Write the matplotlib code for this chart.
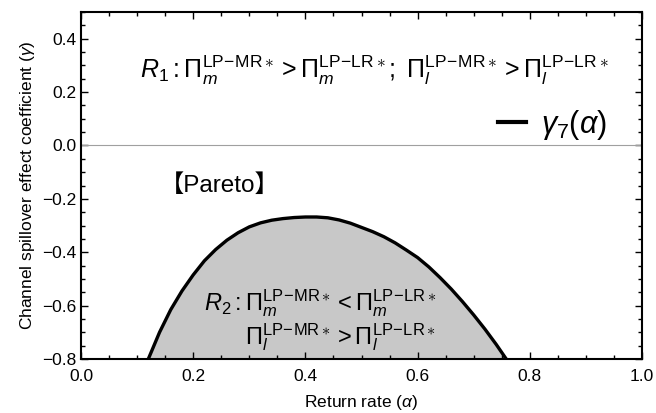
import matplotlib
matplotlib.use("Agg")
import matplotlib.pyplot as plt
from matplotlib.ticker import MultipleLocator, FuncFormatter

plt.rcParams['font.family'] = ['Liberation Sans', 'Noto Sans CJK SC', 'DejaVu Sans']
plt.rcParams['mathtext.fontset'] = 'custom'
plt.rcParams['mathtext.rm'] = 'Liberation Sans'
plt.rcParams['mathtext.it'] = 'Liberation Sans:italic'
plt.rcParams['mathtext.bf'] = 'Liberation Sans:bold'

# boundary curve gamma_7(alpha)
alpha = [0.120, 0.14, 0.16, 0.18, 0.20, 0.22, 0.24, 0.26, 0.28, 0.30, 0.32,
         0.34, 0.36, 0.38, 0.40, 0.42, 0.44, 0.46, 0.48, 0.50, 0.52, 0.54,
         0.56, 0.58, 0.60, 0.62, 0.64, 0.66, 0.68, 0.70, 0.72, 0.74, 0.758]
gamma7 = [-0.800, -0.700, -0.615, -0.545, -0.485, -0.432, -0.390, -0.355,
          -0.327, -0.305, -0.290, -0.280, -0.274, -0.270, -0.268, -0.268,
          -0.271, -0.279, -0.291, -0.307, -0.323, -0.342, -0.365, -0.392,
          -0.420, -0.455, -0.495, -0.538, -0.585, -0.635, -0.688, -0.745,
          -0.800]

xlim = (0.0, 1.0)
ylim = (-0.8, 0.5)

fig = plt.figure(figsize=(6.56, 4.13), dpi=100)
ax = fig.add_axes([81/656, 1-359/413, (642-81)/656, (359-12)/413])

ax.fill_between(alpha, gamma7, ylim[0], color='#c8c8c8', zorder=1)
ax.plot(alpha, gamma7, color='black', lw=2.4, zorder=3, label=r'$\gamma_7(\alpha)$')
ax.axhline(0, color='#a0a0a0', lw=0.8, zorder=2)

ax.set_xlim(*xlim)
ax.set_ylim(*ylim)
ax.xaxis.set_major_locator(MultipleLocator(0.2))
ax.xaxis.set_minor_locator(MultipleLocator(0.05))
ax.yaxis.set_major_locator(MultipleLocator(0.2))
ax.yaxis.set_minor_locator(MultipleLocator(0.05))
ax.tick_params(which='both', direction='in', top=True, right=True, labelsize=12.5, width=1)
ax.tick_params(which='major', length=5)
ax.tick_params(which='minor', length=3)
ax.tick_params(axis='x', which='major', pad=7)
ax.tick_params(axis='y', which='major', pad=3)
ax.yaxis.set_major_formatter(FuncFormatter(lambda v, p: f"{v:.1f}".replace('-', '\u2212')))
ax.xaxis.set_major_formatter(FuncFormatter(lambda v, p: f"{v:.1f}"))
for s in ax.spines.values():
    s.set_linewidth(1.5)

ax.set_xlabel(r'Return rate ($\alpha$)', fontsize=12.5, labelpad=7)
ax.set_ylabel(r'Channel spillover effect coefficient ($\gamma$)', fontsize=12.5, labelpad=4)

sup_mr = r'\mathrm{LP\!-\!MR}\ast'
sup_lr = r'\mathrm{LP\!-\!LR}\ast'
r1 = (r'$R_1:\Pi_m^{%s}>\Pi_m^{%s};\ \Pi_l^{%s}>\Pi_l^{%s}$'
      % (sup_mr, sup_lr, sup_mr, sup_lr))
ax.text(0.105, 0.28, r1, fontsize=18, va='center', ha='left', zorder=4)

r2a = r'$R_2:\Pi_m^{%s}<\Pi_m^{%s}$' % (sup_mr, sup_lr)
r2b = r'$\Pi_l^{%s}>\Pi_l^{%s}$' % (sup_mr, sup_lr)
ax.text(0.220, -0.59, r2a, fontsize=17, va='center', ha='left', zorder=4)
ax.text(0.292, -0.72, r2b, fontsize=17, va='center', ha='left', zorder=4)

ax.text(0.14, -0.15, '【Pareto】', fontsize=17.5, va='center', ha='left', zorder=4)

leg = ax.legend(loc='center left', bbox_to_anchor=(0.695, 0.675), frameon=False,
                fontsize=22, handlelength=0.9, handletextpad=0.5)
for h in leg.get_lines():
    h.set_linewidth(3)

fig.savefig('out.png', dpi=100)
